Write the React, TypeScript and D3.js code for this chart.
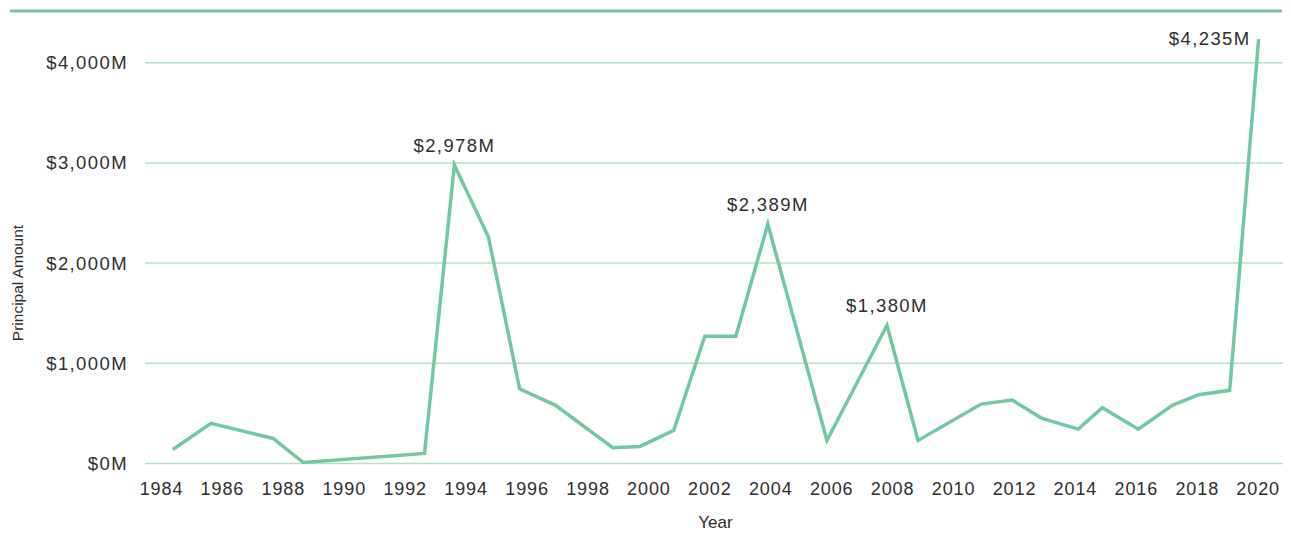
import React from "react";
import * as d3 from "d3";

const years = [1984.39, 1985.64, 1987.68, 1988.67, 1992.65, 1993.63, 1994.75, 1995.77, 1996.95, 1998.83, 1999.71, 2000.83, 2001.85, 2002.87, 2003.92, 2005.86, 2007.83, 2008.85, 2010.92, 2011.94, 2012.9, 2014.11, 2014.9, 2016.08, 2017.2, 2018.06, 2019.08, 2020.03];
const values = [140, 400, 250, 10, 100, 2978, 2260, 746, 580, 157, 170, 330, 1270, 1270, 2389, 230, 1380, 230, 593, 633, 453, 343, 557, 343, 580, 687, 730, 4235];
const xTicks = d3.range(1984, 2021, 2);
const yTicks = [0, 1000, 2000, 3000, 4000];
const annotated = [5, 14, 16, 27];

const W = 1291;
const H = 533;
const LINE = "#72c8a1";
const GRID = "#b4e0cb";
const TEXT = "#303030";
const FONT = "'Liberation Sans', Arial, Helvetica, sans-serif";

export default function App() {
  const x = d3.scaleLinear().domain([1984, 2020]).range([161, 1257.7]);
  const y = d3.scaleLinear().domain([0, 4000]).range([463.5, 62.7]);
  const fmt = (v: number) => "$" + d3.format(",")(v) + "M";
  const pts = years.map((yr, i) => [yr, values[i]] as [number, number]);
  const line = d3
    .line<[number, number]>()
    .x((d) => x(d[0]))
    .y((d) => y(d[1]));

  return (
    <svg
      width={W}
      height={H}
      style={{ position: "absolute", left: 0, top: 0, display: "block", background: "#fff" }}
      fontFamily={FONT}
    >
      <line x1={10} x2={1282} y1={11} y2={11} stroke={LINE} strokeWidth={3} />
      {yTicks.map((t) => (
        <g key={t}>
          <line x1={145} x2={1283} y1={y(t)} y2={y(t)} stroke={GRID} strokeWidth={1.5} />
          <text
            x={128}
            y={y(t)}
            textAnchor="end"
            dominantBaseline="central"
            fontSize={18.5}
            fill={TEXT}
            letterSpacing={1.4}
          >
            {fmt(t)}
          </text>
        </g>
      ))}
      {xTicks.map((t) => (
        <text key={t} x={x(t) + 0.5} y={495} textAnchor="middle" fontSize={18} fill={TEXT} letterSpacing={0.9}>
          {t}
        </text>
      ))}
      <text x={715.5} y={528} textAnchor="middle" fontSize={17} fill={TEXT}>
        Year
      </text>
      <text
        transform={`translate(23,283) rotate(-90)`}
        textAnchor="middle"
        fontSize={15.5}
        fill={TEXT}
      >
        Principal Amount
      </text>
      <path d={line(pts) || ""} fill="none" stroke={LINE} strokeWidth={3.5} strokeLinejoin="miter" />
      {annotated.map((i) => {
        const last = i === years.length - 1;
        return (
          <text
            key={i}
            x={last ? x(years[i]) - 8 : x(years[i])}
            y={last ? y(values[i]) + 6 : y(values[i]) - 13}
            textAnchor={last ? "end" : "middle"}
            fontSize={18.5}
            fill={TEXT}
            letterSpacing={1.4}
          >
            {fmt(values[i])}
          </text>
        );
      })}
    </svg>
  );
}
